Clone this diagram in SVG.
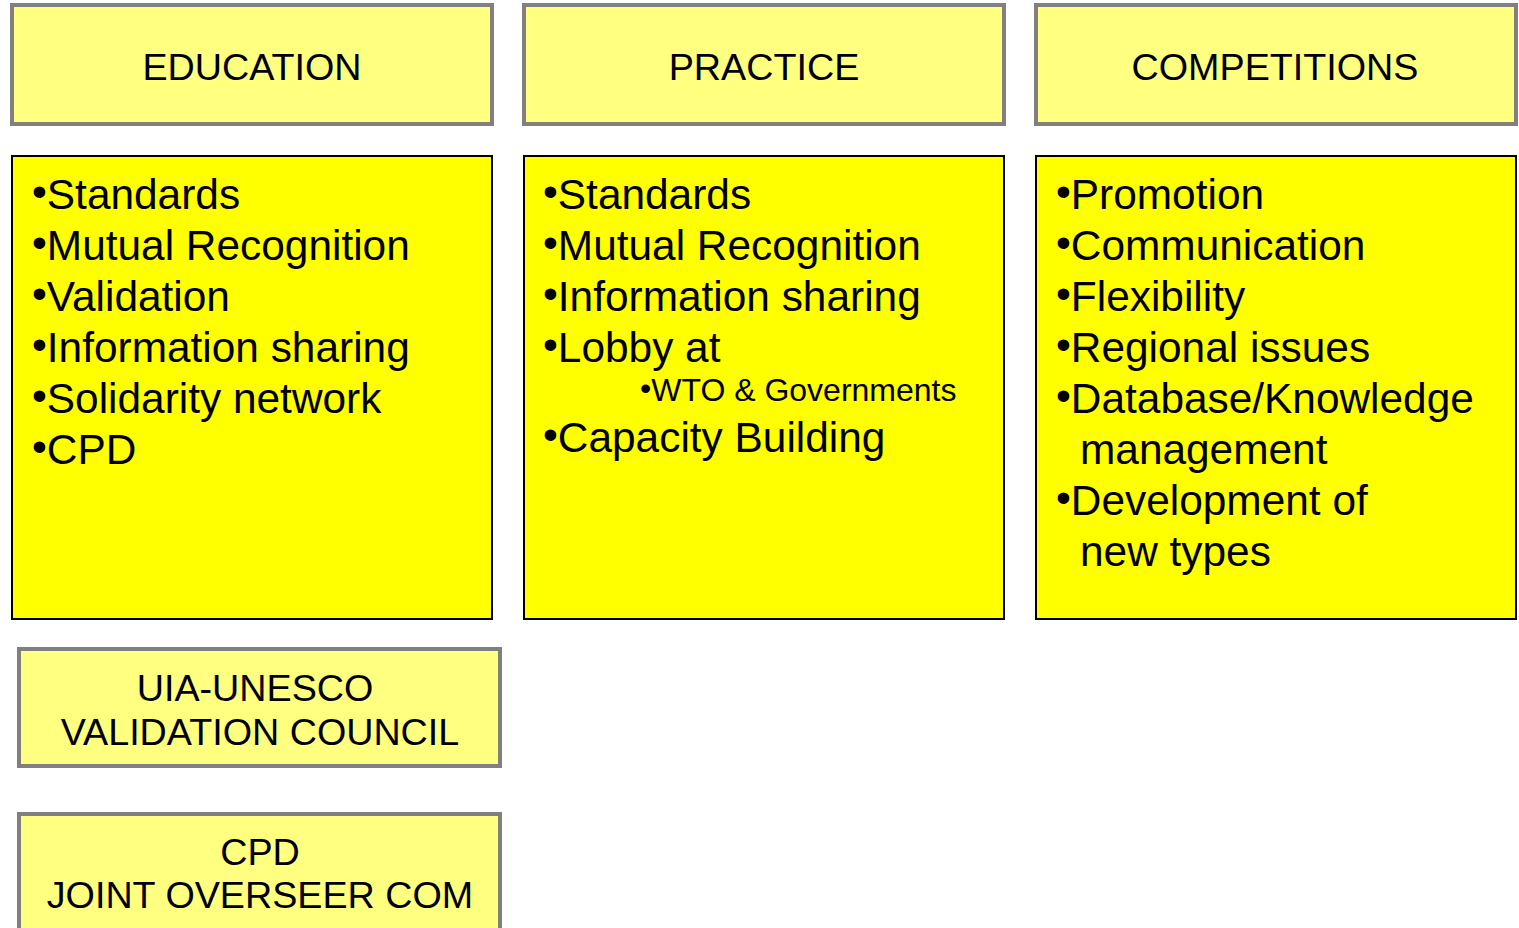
<svg xmlns="http://www.w3.org/2000/svg" width="1519" height="928" viewBox="0 0 1519 928">
<style>
.hdr{fill:#FFFF80;stroke:#808080;stroke-width:4}
.body{fill:#FFFF00;stroke:#000;stroke-width:2}
.ht{font-family:"Liberation Sans",Arial,sans-serif;font-size:37.7px;fill:#000;text-anchor:middle}
.bt{font-family:"Liberation Sans",Arial,sans-serif;font-size:42.4px;fill:#000}
.st{font-family:"Liberation Sans",Arial,sans-serif;font-size:32px;fill:#000}
</style>
<rect width="1519" height="928" fill="#fff"/>
<g id="education-header"><rect class="hdr" x="12" y="5" width="480" height="119"/><text class="ht" x="252" y="80">EDUCATION</text></g>
<g id="practice-header"><rect class="hdr" x="524" y="5" width="480" height="119"/><text class="ht" x="764" y="80">PRACTICE</text></g>
<g id="competitions-header"><rect class="hdr" x="1036" y="5" width="480" height="119"/><text class="ht" x="1275" y="80">COMPETITIONS</text></g>
<g id="education-body"><rect class="body" x="12" y="156" width="480" height="463"/>
<text class="bt" x="32" y="209"><tspan dy="-3">•</tspan><tspan dy="3">Standards</tspan></text>
<text class="bt" x="32" y="260"><tspan dy="-3">•</tspan><tspan dy="3">Mutual Recognition</tspan></text>
<text class="bt" x="32" y="311"><tspan dy="-3">•</tspan><tspan dy="3">Validation</tspan></text>
<text class="bt" x="32" y="362"><tspan dy="-3">•</tspan><tspan dy="3">Information sharing</tspan></text>
<text class="bt" x="32" y="413"><tspan dy="-3">•</tspan><tspan dy="3">Solidarity network</tspan></text>
<text class="bt" x="32" y="464"><tspan dy="-3">•</tspan><tspan dy="3">CPD</tspan></text>
</g>
<g id="practice-body"><rect class="body" x="524" y="156" width="480" height="463"/>
<text class="bt" x="543" y="209"><tspan dy="-3">•</tspan><tspan dy="3">Standards</tspan></text>
<text class="bt" x="543" y="260"><tspan dy="-3">•</tspan><tspan dy="3">Mutual Recognition</tspan></text>
<text class="bt" x="543" y="311"><tspan dy="-3">•</tspan><tspan dy="3">Information sharing</tspan></text>
<text class="bt" x="543" y="362"><tspan dy="-3">•</tspan><tspan dy="3">Lobby at</tspan></text>
<text class="st" x="640" y="401"><tspan dy="-2">•</tspan><tspan dy="2">WTO &amp; Governments</tspan></text>
<text class="bt" x="543" y="452"><tspan dy="-3">•</tspan><tspan dy="3">Capacity Building</tspan></text>
</g>
<g id="competitions-body"><rect class="body" x="1036" y="156" width="480" height="463"/>
<text class="bt" x="1056" y="209"><tspan dy="-3">•</tspan><tspan dy="3">Promotion</tspan></text>
<text class="bt" x="1056" y="260"><tspan dy="-3">•</tspan><tspan dy="3">Communication</tspan></text>
<text class="bt" x="1056" y="311"><tspan dy="-3">•</tspan><tspan dy="3">Flexibility</tspan></text>
<text class="bt" x="1056" y="362"><tspan dy="-3">•</tspan><tspan dy="3">Regional issues</tspan></text>
<text class="bt" x="1056" y="413"><tspan dy="-3">•</tspan><tspan dy="3">Database/Knowledge</tspan></text>
<text class="bt" x="1080" y="464">management</text>
<text class="bt" x="1056" y="515"><tspan dy="-3">•</tspan><tspan dy="3">Development of</tspan></text>
<text class="bt" x="1080" y="566">new types</text>
</g>
<g id="validation-council"><rect class="hdr" x="19" y="649" width="481" height="117"/>
<text class="ht" x="255" y="701">UIA-UNESCO</text><text class="ht" x="260" y="745">VALIDATION COUNCIL</text></g>
<g id="cpd-committee"><rect class="hdr" x="19" y="814" width="481" height="130"/>
<text class="ht" x="260" y="865">CPD</text><text class="ht" x="260" y="908">JOINT OVERSEER COM</text></g>
<g id="connectors"/>
</svg>
